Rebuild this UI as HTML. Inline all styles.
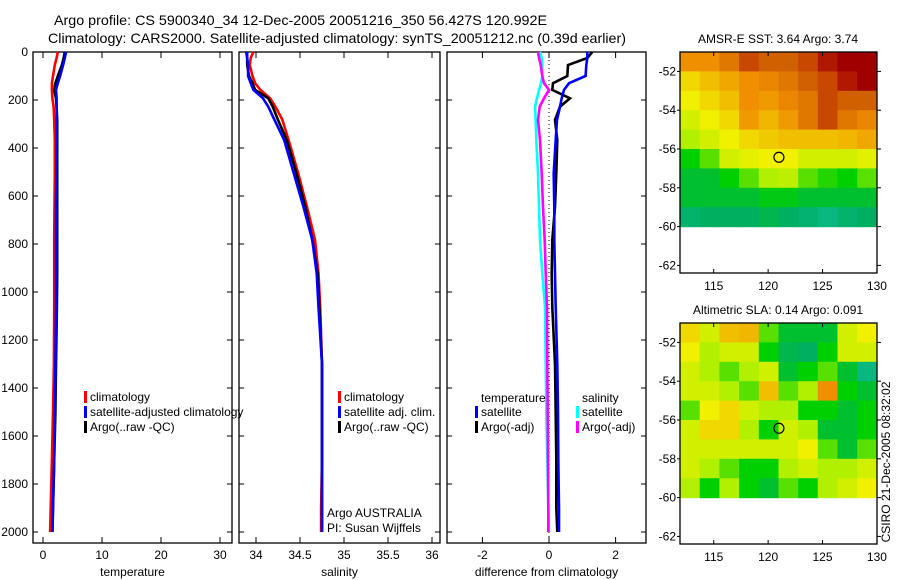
<!DOCTYPE html>
<html><head><meta charset="utf-8"><style>
html,body{margin:0;padding:0;background:#fff;}
svg{display:block;font-family:"Liberation Sans",sans-serif;}
</style></head><body>
<svg id="fig" width="900" height="580" viewBox="0 0 900 580">
<g>
<text x="54" y="25" font-size="14" textLength="493" lengthAdjust="spacingAndGlyphs">Argo profile: CS 5900340_34 12-Dec-2005 20051216_350 56.427S 120.992E</text>
<text x="48" y="43" font-size="14" textLength="578" lengthAdjust="spacingAndGlyphs">Climatology: CARS2000. Satellite-adjusted climatology: synTS_20051212.nc (0.39d earlier)</text>
</g>
<g id="plots"></g>
</svg>
<script>
// ---- depth levels (m) ----
const depthT = [0,25,54,100,130,158,193,228,283,367,506,646,783,922,1063,1300,1500,1700,1900,2000];
// temperature profiles (degC)
const tempClim = [2.5,2.3,2.0,1.7,1.5,1.5,1.6,1.8,1.9,2.0,2.0,1.95,1.9,1.9,1.9,1.85,1.7,1.5,1.3,1.2];
const tempSat  = [3.9,3.7,3.4,2.9,2.5,2.2,2.3,2.3,2.3,2.3,2.25,2.2,2.2,2.2,2.2,2.1,2.0,1.9,1.7,1.6];
const tempArgo = [3.7,3.5,3.2,2.5,2.1,1.9,2.2,2.3,2.4,2.4,2.4,2.4,2.4,2.4,2.35,2.2,2.1,1.9,1.7,1.6];
// salinity profiles (psu)
const salClim = [33.97,33.94,33.93,33.96,33.99,34.05,34.16,34.22,34.30,34.37,34.48,34.58,34.67,34.71,34.73,34.75,34.75,34.75,34.74,34.74];
const salSat  = [33.90,33.90,33.91,33.91,33.94,33.97,34.08,34.14,34.21,34.32,34.43,34.54,34.64,34.69,34.71,34.75,34.75,34.75,34.75,34.75];
const salArgo = [33.89,33.90,33.90,33.92,33.96,33.99,34.14,34.19,34.25,34.35,34.46,34.56,34.64,34.70,34.72,34.75,34.75,34.75,34.75,34.75];
// differences from climatology
const diffTSat  = [1.15,1.15,1.12,1.1,0.6,0.45,0.38,0.33,0.24,0.2,0.14,0.16,0.16,0.18,0.2,0.25,0.27,0.28,0.3,0.3];
const diffTArgo = [1.3,1.15,0.57,0.55,0.12,0.1,0.63,0.33,0.18,0.25,0.22,0.18,0.1,0.08,0.1,0.18,0.2,0.22,0.22,0.25];
const diffSSat  = [-0.27,-0.22,-0.2,-0.2,-0.24,-0.3,-0.36,-0.42,-0.4,-0.38,-0.33,-0.3,-0.27,-0.2,-0.12,-0.1,-0.08,-0.05,-0.02,0.0];
const diffSArgo = [-0.33,-0.3,-0.25,-0.2,-0.15,0.0,-0.15,-0.28,-0.33,-0.27,-0.22,-0.18,-0.13,-0.1,-0.06,-0.05,-0.04,-0.03,-0.02,-0.02];
// axis ticks
const depthTicks = [0,200,400,600,800,1000,1200,1400,1600,1800,2000];
const tempTicks = [0,10,20,30];
const salTicks = [34,34.5,35,35.5,36];
const salTickLabels = ["34","34.5","35","35.5","36"];
const diffTicks = [-2,0,2];
// map axes
const lonTicks = [115,120,125,130];
const latTicks = [-52,-54,-56,-58,-60,-62];
const argoLon = 120.992, argoLat = -56.427;
// SST grid (normalized colour index), rows from -51 to -60 lat, cols 112..130 lon
const sstGrid = [
[0.7,0.7,0.75,0.85,0.8,0.8,0.85,0.95,1,1],
[0.55,0.6,0.65,0.7,0.72,0.75,0.8,0.85,0.95,1],
[0.5,0.55,0.6,0.7,0.68,0.72,0.75,0.85,0.8,0.8],
[0.45,0.5,0.55,0.68,0.62,0.68,0.75,0.85,0.75,0.72],
[0.4,0.45,0.5,0.55,0.58,0.6,0.6,0.6,0.62,0.65],
[0.3,0.35,0.45,0.48,0.5,0.5,0.45,0.45,0.45,0.48],
[0.25,0.25,0.3,0.35,0.4,0.42,0.35,0.32,0.3,0.35],
[0.25,0.25,0.25,0.25,0.28,0.28,0.25,0.25,0.25,0.25],
[0.18,0.2,0.2,0.2,0.22,0.2,0.18,0.15,0.18,0.2]];
const slaGrid = [
[0.55,0.45,0.6,0.62,0.35,0.25,0.25,0.25,0.45,0.5],
[0.5,0.4,0.45,0.45,0.3,0.22,0.2,0.3,0.45,0.45],
[0.45,0.4,0.35,0.4,0.45,0.25,0.3,0.35,0.25,0.15],
[0.45,0.45,0.4,0.35,0.6,0.35,0.4,0.7,0.3,0.25],
[0.35,0.5,0.55,0.45,0.4,0.4,0.3,0.3,0.25,0.3],
[0.45,0.55,0.55,0.4,0.3,0.45,0.4,0.25,0.25,0.3],
[0.45,0.45,0.45,0.45,0.45,0.45,0.5,0.35,0.25,0.35],
[0.45,0.4,0.35,0.3,0.3,0.4,0.45,0.4,0.4,0.45],
[0.4,0.3,0.4,0.3,0.25,0.35,0.3,0.4,0.45,0.5]];

const NS="http://www.w3.org/2000/svg";
const root=document.getElementById('plots');
function mk(tag,attrs,parent){const e=document.createElementNS(NS,tag);for(const k in attrs)e.setAttribute(k,attrs[k]);(parent||root).appendChild(e);return e;}
function txt(x,y,s,size,anchor,parent){const t=mk('text',{x:x,y:y,'font-size':size,'text-anchor':anchor||'start'},parent);t.textContent=s;return t;}

const TOP=52,BOT=543;
const yD=d=>TOP+d*0.24;

function profilePanel(name,x0,x1,xs,ticks,labels,xlabel){
  const g=mk('g',{});
  
  
  const fr=mk('rect',{x:x0,y:TOP,width:x1-x0,height:BOT-TOP,fill:'none',stroke:'#000','stroke-width':1.3},g);
  
  
  ticks.forEach((v,i)=>{
    const x=xs(v);
    mk('line',{x1:x,y1:BOT,x2:x,y2:BOT-6,stroke:'#000'},g);
    mk('line',{x1:x,y1:TOP,x2:x,y2:TOP+6,stroke:'#000'},g);
    const t=txt(x,559,labels[i],12,'middle',g);
    
    
  });
  depthTicks.forEach(d=>{
    mk('line',{x1:x0,y1:yD(d),x2:x0+5,y2:yD(d),stroke:'#000'},g);
    mk('line',{x1:x1,y1:yD(d),x2:x1-5,y2:yD(d),stroke:'#000'},g);
  });
  const xl=txt((x0+x1)/2,576,xlabel,12,'middle',g);
  
  
  return g;
}
function series(g,vals,xs,color,name){
  const pts=depthT.map((d,i)=>xs(vals[i]).toFixed(1)+','+yD(d).toFixed(1)).join(' ');
  const p=mk('polyline',{points:pts,fill:'none',stroke:color,'stroke-width':2.6,'stroke-linejoin':'miter'},g);
  
  
}
function legend(g,x,y,color,label){
  if(color){const m=mk('rect',{x:x-6,y:y-10,width:3,height:12,fill:color},g);}
  const t=txt(x,y,label,12,'start',g);
  
  
}

// depth axis labels
const dl=mk('g',{});


depthTicks.forEach(d=>{txt(28,yD(d)+4,String(d),12,'end',dl);});

// Panel 1 temperature
const xT=v=>43+5.9*v;
const g1=profilePanel('temperature-panel',33,232,xT,tempTicks,tempTicks.map(String),'temperature');
series(g1,tempClim,xT,'#f00','temp-climatology-line');
series(g1,tempArgo,xT,'#000','temp-argo-line');
series(g1,tempSat,xT,'#00f','temp-satellite-line');
legend(g1,90,401,'#f00','climatology');
legend(g1,90,416,'#00f','satellite-adjusted climatology');
legend(g1,90,431,'#000','Argo(..raw -QC)');

// Panel 2 salinity
const xS=v=>256+88*(v-34);
const g2=profilePanel('salinity-panel',239,440,xS,salTicks,salTickLabels,'salinity');
series(g2,salClim,xS,'#f00','sal-climatology-line');
series(g2,salArgo,xS,'#000','sal-argo-line');
series(g2,salSat,xS,'#00f','sal-satellite-line');
legend(g2,344,401,'#f00','climatology');
legend(g2,344,416,'#00f','satellite adj. clim.');
legend(g2,344,431,'#000','Argo(..raw -QC)');
legend(g2,327,517,null,'Argo AUSTRALIA');
legend(g2,327,532,null,'PI: Susan Wijffels');

// Panel 3 differences
const xDf=v=>549+33.3*v;
const g3=profilePanel('difference-panel',447,646,xDf,diffTicks,diffTicks.map(String),'difference from climatology');
const zl=mk('line',{x1:xDf(0),y1:TOP,x2:xDf(0),y2:BOT,stroke:'#000','stroke-dasharray':'1,3'},g3);


series(g3,diffSSat,xDf,'#0ff','diff-sal-satellite-line');
series(g3,diffSArgo,xDf,'#f0f','diff-sal-argo-line');
series(g3,diffTArgo,xDf,'#000','diff-temp-argo-line');
series(g3,diffTSat,xDf,'#00f','diff-temp-satellite-line');
legend(g3,481,402,null,'temperature');
legend(g3,481,416,'#00f','satellite');
legend(g3,481,431,'#000','Argo(-adj)');
legend(g3,582,402,null,'salinity');
legend(g3,582,416,'#0ff','satellite');
legend(g3,582,431,'#f0f','Argo(-adj)');

// ---- maps ----
const cstops=[[0.1,[16,192,160]],[0.2,[0,176,96]],[0.3,[0,208,0]],[0.4,[176,240,0]],[0.5,[240,240,0]],[0.6,[240,192,0]],[0.7,[240,144,0]],[0.8,[208,96,0]],[0.9,[192,48,0]],[1.0,[160,0,0]]];
function cmap(v){
  if(v<=cstops[0][0])return 'rgb('+cstops[0][1]+')';
  for(let i=1;i<cstops.length;i++){if(v<=cstops[i][0]){const a=cstops[i-1],b=cstops[i],f=(v-a[0])/(b[0]-a[0]);return 'rgb('+a[1].map((c,k)=>Math.round(c+(b[1][k]-c)*f)).join(',')+')';}}
  return 'rgb(160,0,0)';
}
function mapPanel(name,top,grid,title){
  const L=680,R=877,H=221;
  const lx=v=>L+(v-111.9)*10.88;
  const ly=v=>top+(-51-v)*19.4;
  const g=mk('g',{});
  
  
  const rows=grid.length,cols=grid[0].length;
  const lonStep=(130-111.9)/cols,latStep=9/rows;
  grid.forEach((row,r)=>row.forEach((v,c)=>{
    const x=lx(111.9+c*lonStep),y=ly(-51-r*latStep);
    const cell=mk('rect',{x:x.toFixed(1),y:y.toFixed(1),width:(lonStep*10.88+0.6).toFixed(1),height:(latStep*19.4+0.6).toFixed(1),fill:cmap(v)},g);
    
    
  }));
  const fr=mk('rect',{x:L,y:top,width:R-L,height:H,fill:'none',stroke:'#000','stroke-width':1.3},g);
  
  
  lonTicks.forEach(v=>{mk('line',{x1:lx(v),y1:top,x2:lx(v),y2:top+4,stroke:'#000'},g);mk('line',{x1:lx(v),y1:top+H,x2:lx(v),y2:top+H-4,stroke:'#000'},g);
    const t=txt(lx(v),top+H+17,String(v),12,'middle',g);});
  latTicks.forEach(v=>{mk('line',{x1:R,y1:ly(v),x2:R+4,y2:ly(v),stroke:'#000'},g);mk('line',{x1:L,y1:ly(v),x2:L-3,y2:ly(v),stroke:'#000'},g);
    const t=txt(L-4,ly(v)+4,String(v),12,'end',g);});
  const c=mk('circle',{cx:lx(argoLon),cy:ly(argoLat),r:5,fill:'none',stroke:'#000','stroke-width':1.2},g);
  
  
  const t=txt(778,top-9,title,12,'middle',g);
  
  
}
mapPanel('sst-map',52,sstGrid,'AMSR-E SST: 3.64 Argo: 3.74');
mapPanel('sla-map',323,slaGrid,'Altimetric SLA: 0.14 Argo: 0.091');
const cs=txt(0,0,'CSIRO 21-Dec-2005 08:32:02',12,'middle');
cs.setAttribute('transform','translate(890,462) rotate(-90)');


</script>
</body></html>
